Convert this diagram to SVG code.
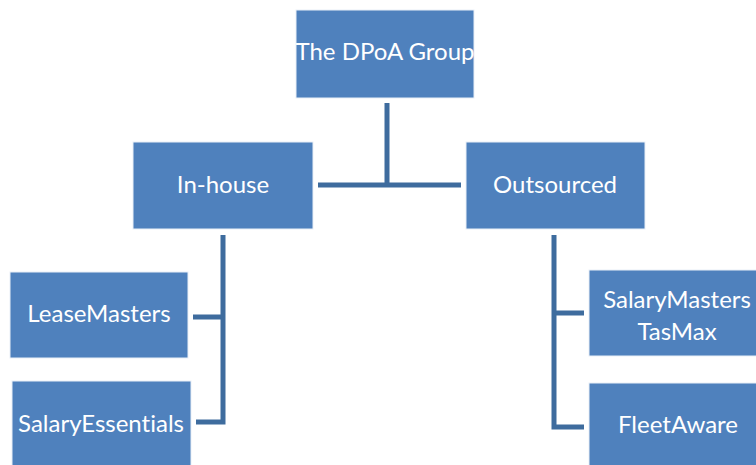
<svg xmlns="http://www.w3.org/2000/svg" width="756" height="465" viewBox="0 0 756 465">
<style>
.box{fill:#4f81bd;stroke:#e9eff7;stroke-width:1}
.lbl{font-family:Lato,"Open Sans","Liberation Sans",sans-serif;font-size:24px;fill:#ffffff;text-anchor:middle;font-variant-ligatures:none;font-feature-settings:"liga" 0,"clig" 0}
.conn{fill:none;stroke:#3e6c9e;stroke-width:5;stroke-linejoin:miter;stroke-linecap:butt}
</style>
<rect width="756" height="465" fill="#ffffff"/>
<g id="connectors">
<path class="conn" d="M387,103 V185 M318,185 H461"/>
<path class="conn" d="M223,235 V422 H196 M223,317 H193"/>
<path class="conn" d="M554,235 V427 H584 M554,313 H584"/>
</g>
<g id="dpoa"><rect class="box" x="296" y="10" width="178" height="88"/><text class="lbl" x="385" y="60">The DPoA Group</text></g>
<g id="inhouse"><rect class="box" x="133" y="142" width="180" height="87"/><text class="lbl" x="223" y="193">In-house</text></g>
<g id="outsourced"><rect class="box" x="466" y="142" width="179" height="87"/><text class="lbl" x="555" y="193">Outsourced</text></g>
<g id="leasemasters"><rect class="box" x="10" y="272" width="178" height="86"/><text class="lbl" x="99" y="322">LeaseMasters</text></g>
<g id="salaryessentials"><rect class="box" x="12" y="381" width="179" height="90"/><text class="lbl" x="101" y="432">SalaryEssentials</text></g>
<g id="salarymasters"><rect class="box" x="589" y="270" width="178" height="86"/><text class="lbl" x="677" y="308">SalaryMasters</text><text class="lbl" x="677" y="340">TasMax</text></g>
<g id="fleetaware"><rect class="box" x="589" y="383" width="178" height="90"/><text class="lbl" x="678" y="433">FleetAware</text></g>
</svg>
